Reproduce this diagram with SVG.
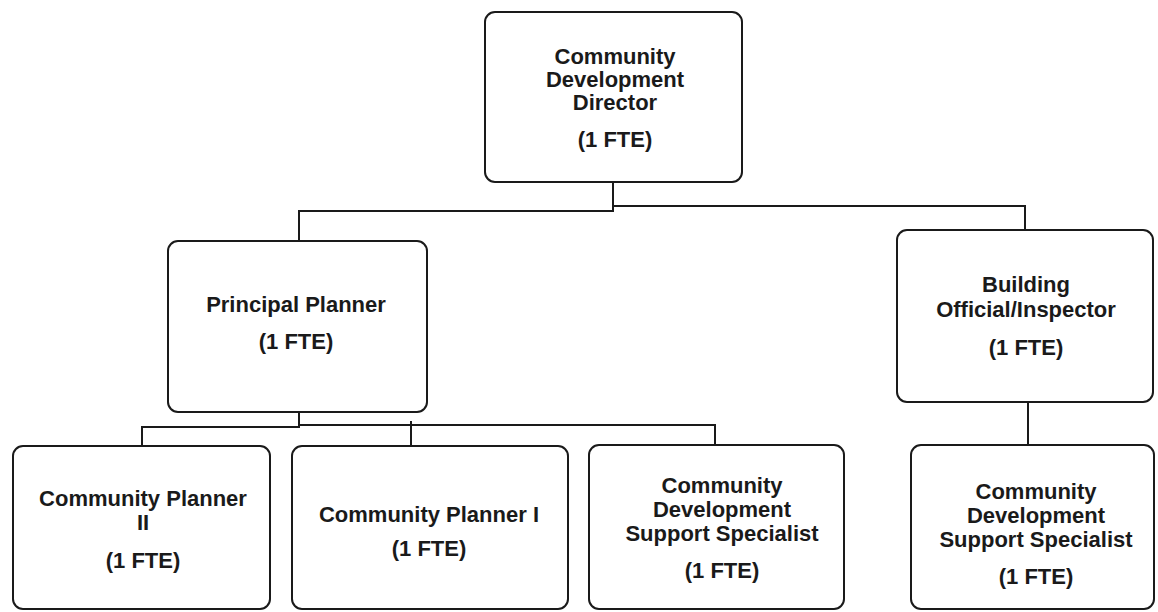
<svg xmlns="http://www.w3.org/2000/svg" width="1158" height="612" viewBox="0 0 1158 612">
  <style>
    .box { fill: #ffffff; stroke: #1a1a1a; stroke-width: 2; }
    .lbl { font-family: "Liberation Sans", Arial, sans-serif; font-size: 22px; font-weight: bold; fill: #1a1a1a; text-anchor: middle; }
    .wire { fill: none; stroke: #1a1a1a; stroke-width: 2; }
  </style>
  <rect width="1158" height="612" fill="#ffffff"/>

  <!-- reporting lines -->
  <g id="connectors">
    <path class="wire" d="M613,182 V211 H299 V241"/>
    <path class="wire" d="M613,206 H1025 V230"/>
    <path class="wire" d="M299,412 V427 H142 V446"/>
    <path class="wire" d="M299,425 H715 V445"/>
    <path class="wire" d="M411,421 V446"/>
    <path class="wire" d="M1028,402 V445"/>
  </g>

  <g id="director">
    <rect class="box" x="485" y="12" width="257" height="170" rx="10"/>
    <text class="lbl" x="615" y="64">Community</text>
    <text class="lbl" x="615" y="87">Development</text>
    <text class="lbl" x="615" y="110">Director</text>
    <text class="lbl" x="615" y="147">(1 FTE)</text>
  </g>

  <g id="principal-planner">
    <rect class="box" x="168" y="241" width="259" height="171" rx="10"/>
    <text class="lbl" x="296" y="312">Principal Planner</text>
    <text class="lbl" x="296" y="349">(1 FTE)</text>
  </g>

  <g id="building-official">
    <rect class="box" x="897" y="230" width="256" height="172" rx="10"/>
    <text class="lbl" x="1026" y="292">Building</text>
    <text class="lbl" x="1026" y="317">Official/Inspector</text>
    <text class="lbl" x="1026" y="355">(1 FTE)</text>
  </g>

  <g id="community-planner-2">
    <rect class="box" x="13" y="446" width="257" height="163" rx="10"/>
    <text class="lbl" x="143" y="506">Community Planner</text>
    <text class="lbl" x="143" y="530">II</text>
    <text class="lbl" x="143" y="568">(1 FTE)</text>
  </g>

  <g id="community-planner-1">
    <rect class="box" x="292" y="446" width="276" height="163" rx="10"/>
    <text class="lbl" x="429" y="522">Community Planner I</text>
    <text class="lbl" x="429" y="556">(1 FTE)</text>
  </g>

  <g id="support-specialist-planning">
    <rect class="box" x="589" y="445" width="255" height="164" rx="10"/>
    <text class="lbl" x="722" y="493">Community</text>
    <text class="lbl" x="722" y="517">Development</text>
    <text class="lbl" x="722" y="541">Support Specialist</text>
    <text class="lbl" x="722" y="578">(1 FTE)</text>
  </g>

  <g id="support-specialist-building">
    <rect class="box" x="911" y="445" width="243" height="164" rx="10"/>
    <text class="lbl" x="1036" y="499">Community</text>
    <text class="lbl" x="1036" y="523">Development</text>
    <text class="lbl" x="1036" y="547">Support Specialist</text>
    <text class="lbl" x="1036" y="584">(1 FTE)</text>
  </g>
</svg>
